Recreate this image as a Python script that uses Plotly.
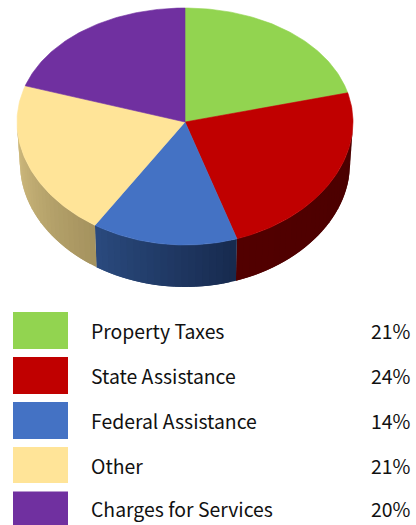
import numpy as np
import plotly.graph_objects as go

categories = ["Property Taxes", "State Assistance", "Federal Assistance", "Other", "Charges for Services"]
shares = [21, 24, 14, 21, 20]
labels = ["21%", "24%", "14%", "21%", "20%"]
colors = ["#92D450", "#C00000", "#4472C4", "#FFE498", "#7030A0"]
side_left = ["#92D450", "#520000", "#2A4A7E", "#D2BD80", "#7030A0"]
side_right = ["#92D450", "#4A0000", "#172A4E", "#A4925E", "#7030A0"]

W, H = 416, 525
CX, CY, RX, RX_B, DEPTH = 185.0, 122.0, 168.0, 165.0, 42.0


def top_rim(t):
    c, s = np.cos(t), np.sin(t)
    return CX + RX * s, CY - (118.5 * c - 4.5 * c * c)


def bottom_rim(t):
    c, s = np.cos(t), np.sin(t)
    return CX + RX_B * s, CY - (118.5 * c - 4.5 * c * c) + DEPTH


def mix(a, b, f):
    pa = [int(a[i:i + 2], 16) for i in (1, 3, 5)]
    pb = [int(b[i:i + 2], 16) for i in (1, 3, 5)]
    return "rgb(%d,%d,%d)" % tuple(round(x + (y - x) * f) for x, y in zip(pa, pb))


fig = go.Figure()
edges = np.radians(np.cumsum([0] + shares) * 3.6)


def poly(x, y, color, line=0.6):
    fig.add_trace(go.Scatter(x=x, y=y, mode="lines", fill="toself", fillcolor=color,
                             line=dict(color=color, width=line), hoverinfo="skip", showlegend=False))


# side wall, drawn strip by strip for the shading (front half only);
# each strip reaches under the next one so no seams show
for i in range(len(shares)):
    a0, a1 = max(edges[i], np.pi / 2), min(edges[i + 1], 3 * np.pi / 2)
    if a1 <= a0:
        continue
    n = max(2, int((a1 - a0) * 24))
    ts = np.linspace(a0, a1, n + 1)
    for k in range(n):
        sub = np.linspace(ts[k], ts[min(k + 2, n)], 6)
        xt, yt = top_rim(sub)
        xb, yb = bottom_rim(sub[::-1])
        f = 1 - (k + 0.5) / n
        poly(np.r_[xt, xb, xt[0]], np.r_[yt, yb, yt[0]], mix(side_left[i], side_right[i], f), line=0)

# top face
for i in range(len(shares)):
    t = np.linspace(edges[i], edges[i + 1], 80)
    xr, yr = top_rim(t)
    poly(np.r_[CX, xr, CX], np.r_[CY, yr, CY], colors[i])

rows = [330.5, 375.5, 420.5, 465, 508.5]
heights = [37, 37, 37, 36, 34]
shapes = []
annotations = []
FONT = "Noto Sans CJK JP"
for name, lab, col, yc, h in zip(categories, labels, colors, rows, heights):
    shapes.append(dict(type="rect", xref="x", yref="y", x0=13, x1=68, y0=yc - h / 2, y1=yc + h / 2,
                       fillcolor=col, line=dict(width=0), layer="above"))
    annotations.append(dict(x=88.5, y=yc, xref="x", yref="y", text=name, showarrow=False, xanchor="left",
                            yanchor="middle", font=dict(family=FONT, size=19.4, color="#111111")))
    annotations.append(dict(x=412.5, y=yc, xref="x", yref="y", text=lab, showarrow=False, xanchor="right",
                            yanchor="middle", font=dict(family=FONT, size=19.4, color="#111111")))

fig.update_layout(
    width=W, height=H, margin=dict(l=0, r=0, t=0, b=0),
    paper_bgcolor="white", plot_bgcolor="white", showlegend=False,
    xaxis=dict(range=[0, W], visible=False, fixedrange=True),
    yaxis=dict(range=[H, 0], visible=False, fixedrange=True),
    shapes=shapes, annotations=annotations,
)
fig.write_html("out.html", config=dict(displayModeBar=False),
               post_script="document.body.style.margin='0';document.documentElement.style.overflow='hidden';")
